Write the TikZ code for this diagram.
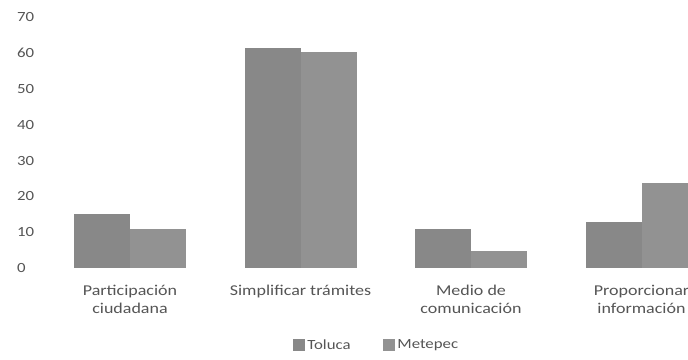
\documentclass[tikz,border=0pt]{standalone}
\usepackage{fontspec}
\setmainfont[FakeStretch=1.2]{Carlito}
\usepackage{xcolor}
\usepackage{tikz}
\usetikzlibrary{positioning}

\definecolor{tolucagray}{RGB}{136,136,136}
\definecolor{metepecgray}{RGB}{146,146,146}
\definecolor{labelgray}{RGB}{85,85,85}

\begin{document}
\begin{tikzpicture}[x=1pt, y=1pt]
    \tikzstyle{ytick} = [anchor=west, inner sep=0pt, text=labelgray, font=\fontsize{14}{16}\selectfont]
    \tikzstyle{cat} = [anchor=north, inner sep=0pt, align=center, text=labelgray, font=\fontsize{15}{18}\selectfont]
    \tikzstyle{legbox} = [rectangle, minimum size=12pt, inner sep=0pt]
    \tikzstyle{legtext} = [inner sep=0pt, text=labelgray, font=\fontsize{14}{16}\selectfont]

    \useasboundingbox (0,0) rectangle (688,359);
    \fill[white] (0,0) rectangle (688,359);

    % axis values
    \node (y0) [ytick] at (17,91) {0};
    \node (y10) [ytick] at (17,126.8) {10};
    \node (y20) [ytick] at (17,162.6) {20};
    \node (y30) [ytick] at (17,198.4) {30};
    \node (y40) [ytick] at (17,234.2) {40};
    \node (y50) [ytick] at (17,270) {50};
    \node (y60) [ytick] at (17,305.8) {60};
    \node (y70) [ytick] at (17,341.6) {70};

    % bars
    \begin{scope}
        \clip (0,0) rectangle (688,359);
        \fill[tolucagray] (74,91) rectangle (130,144.7);
        \fill[metepecgray] (130,91) rectangle (186,130.4);
        \fill[tolucagray] (244.5,91) rectangle (300.5,311.2);
        \fill[metepecgray] (300.5,91) rectangle (356.5,306.9);
        \fill[tolucagray] (415,91) rectangle (471,130);
        \fill[metepecgray] (471,91) rectangle (527,107.8);
        \fill[tolucagray] (585.5,91) rectangle (641.5,136.8);
        \fill[metepecgray] (641.5,91) rectangle (697.5,175.8);
    \end{scope}

    % categories
    \node (part) [cat] at (130,74) {Participación\\ciudadana};
    \node (simp) [cat] at (300.5,74) {Simplificar trámites};
    \node (medio) [cat] at (471,74) {Medio de\\comunicación};
    \node (prop) [cat] at (641.5,74) {Proporcionar\\información};

    % legend
    \node (legtol) [legbox, fill=tolucagray] at (299,14) {};
    \node (txttol) [legtext, right=2pt of legtol] {Toluca};
    \node (legmet) [legbox, fill=metepecgray] at (389,14) {};
    \node (txtmet) [legtext, right=2pt of legmet] {Metepec};
\end{tikzpicture}
\end{document}
